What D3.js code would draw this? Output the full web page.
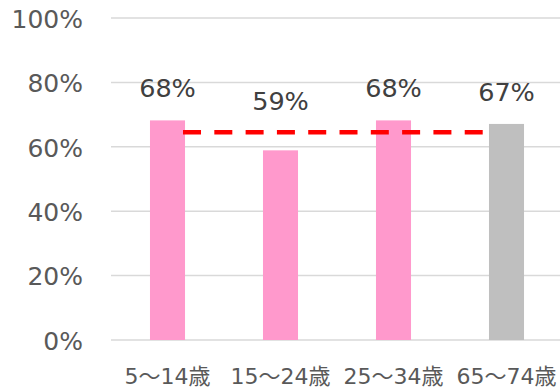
<!DOCTYPE html>
<html>
<head>
<meta charset="utf-8">
<script src="https://cdn.jsdelivr.net/npm/d3@7"></script>
<style>
  html, body { margin: 0; padding: 0; background: #fff; }
  svg { display: block; }
</style>
</head>
<body>
<svg id="chart" width="560" height="388"></svg>
<script>
// Age groups and shares
const categories = ["5～14歳", "15～24歳", "25～34歳", "65～74歳"];
const values = [68.2, 58.9, 68.2, 67.1];
const labels = ["68%", "59%", "68%", "67%"];
const barColors = ["#FF99CC", "#FF99CC", "#FF99CC", "#BFBFBF"];
const yTicks = [0, 20, 40, 60, 80, 100];
const referenceValue = 64.5;

const svg = d3.select("#chart");
const textColor = "#595959";
const fontFamily = "'DejaVu Sans', 'Noto Sans CJK JP', sans-serif";

const x = d3.scaleBand()
  .domain(categories)
  .range([111, 563])
  .paddingInner(0.69)
  .paddingOuter(0.345);

const y = d3.scaleLinear().domain([0, 100]).range([340, 18]);

// Horizontal gridlines
svg.append("g")
  .selectAll("line")
  .data(yTicks)
  .join("line")
  .attr("x1", 111)
  .attr("x2", 560)
  .attr("y1", d => y(d))
  .attr("y2", d => y(d))
  .attr("stroke", "#D9D9D9")
  .attr("stroke-width", 1.5);

// Y axis labels
const yAxis = d3.axisLeft(y).tickValues(yTicks).tickFormat(d => d + "%").tickSize(0).tickPadding(0);
const yg = svg.append("g").attr("transform", "translate(83,0)").call(yAxis);
yg.select(".domain").remove();
yg.selectAll("text")
  .attr("fill", textColor)
  .style("font-family", fontFamily)
  .style("font-size", "25px")
  .attr("dy", "0.37em");

// Bars
svg.append("g")
  .selectAll("rect")
  .data(categories)
  .join("rect")
  .attr("x", d => x(d))
  .attr("width", x.bandwidth())
  .attr("y", (d, i) => y(values[i]))
  .attr("height", (d, i) => y(0) - y(values[i]))
  .attr("fill", (d, i) => barColors[i]);

// Value labels, kept clear of the reference line
svg.append("g")
  .selectAll("text")
  .data(categories)
  .join("text")
  .attr("x", d => x(d) + x.bandwidth() / 2)
  .attr("y", (d, i) => Math.min(y(values[i]) - 23, y(referenceValue) - 22))
  .attr("text-anchor", "middle")
  .attr("fill", "#404040")
  .style("font-family", fontFamily)
  .style("font-size", "25.5px")
  .text((d, i) => labels[i]);

// Reference line
svg.append("line")
  .attr("x1", x(categories[0]) + x.bandwidth() - 2)
  .attr("x2", x(categories[3]) - 5)
  .attr("y1", y(referenceValue))
  .attr("y2", y(referenceValue))
  .attr("stroke", "#FF0000")
  .attr("stroke-width", 4.5)
  .attr("stroke-dasharray", "18,13.3");

// Category labels
const xAxis = d3.axisBottom(x).tickSize(0).tickPadding(0);
const xg = svg.append("g").attr("transform", "translate(0,384)").call(xAxis);
xg.select(".domain").remove();
xg.selectAll("text")
  .attr("dy", 0)
  .attr("fill", textColor)
  .style("font-family", fontFamily)
  .style("font-size", "22px");
</script>
</body>
</html>
